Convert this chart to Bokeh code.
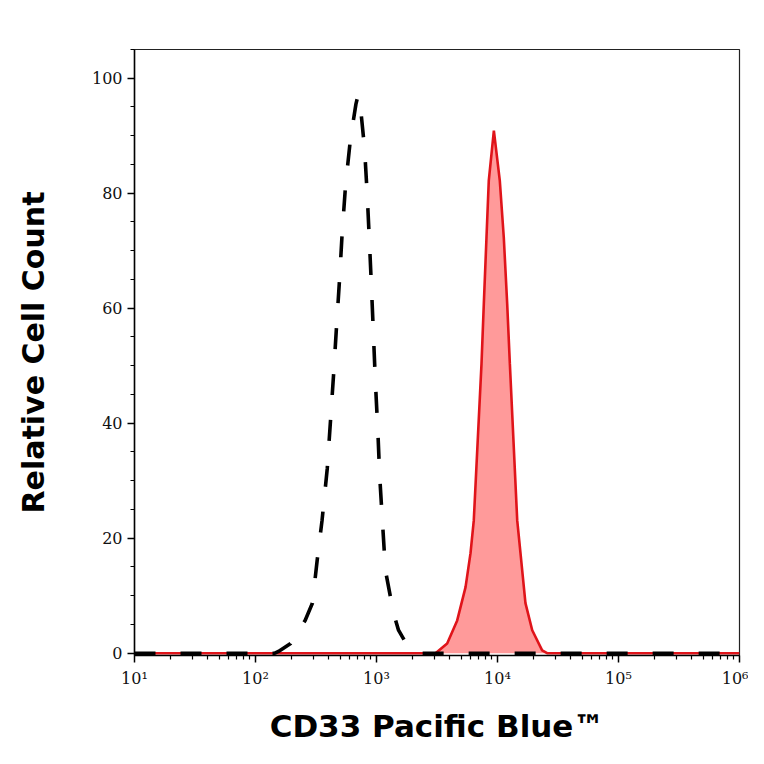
from bokeh.plotting import figure
from bokeh.models import Range1d, FixedTicker
from bokeh.embed import file_html
from bokeh.resources import INLINE

# ---- data (log10 of fluorescence intensity, relative cell count) ----
ctrl_log10 = [1.0, 2.16, 2.19, 2.29, 2.41, 2.47, 2.51, 2.55, 2.593, 2.62, 2.646, 2.669,
              2.694, 2.716, 2.744, 2.785, 2.83, 2.847, 2.868, 2.901, 2.923, 2.942, 2.959,
              2.975, 2.991, 3.011, 3.027, 3.05, 3.074, 3.14, 3.182, 3.25, 3.3, 3.33, 6.0]
ctrl_count = [0, 0, 0.3, 1.7, 5.7, 8.7, 16.2, 23.1, 32.1, 40.5, 48.7, 56.6,
              64.8, 73.0, 81.3, 89.5, 95.5, 97.0, 94.9, 87.9, 79.9, 71.4, 63.4,
              55.3, 47.1, 38.7, 30.6, 22.6, 14.4, 7.0, 4.0, 1.5, 0.3, 0, 0]

cd33_log10 = [1.0, 3.488, 3.584, 3.667, 3.736, 3.777, 3.804, 3.868, 3.887, 3.909, 3.928,
              3.97, 4.019, 4.052, 4.08, 4.102, 4.163, 4.19, 4.231, 4.287, 4.369, 4.41, 6.0]
cd33_count = [0, 0, 1.7, 5.7, 11.5, 17.4, 23.1, 50.4, 60.8, 72.3, 82.2,
              90.9, 82.2, 72.3, 60.8, 50.4, 23.1, 17.4, 8.7, 4.0, 0.5, 0, 0]

x_ticks = [1e1, 1e2, 1e3, 1e4, 1e5, 1e6]
x_tick_labels = ["10¹", "10²", "10³", "10⁴", "10⁵", "10⁶"]
y_ticks = [0, 20, 40, 60, 80, 100]
y_minor = [0, 5, 10, 15, 20, 25, 30, 35, 40, 45, 50, 55, 60, 65, 70, 75, 80, 85, 90, 95, 100, 105]

ctrl_x = [10 ** v for v in ctrl_log10]
cd33_x = [10 ** v for v in cd33_log10]
x_minor = [m * t for t in x_ticks[:-1] for m in range(2, 10)]

p = figure(x_axis_type="log", x_range=Range1d(10, 1e6), y_range=Range1d(-0.4, 105),
           frame_width=605, frame_height=606,
           min_border_left=134, min_border_right=9, min_border_top=49, min_border_bottom=93,
           output_backend="svg", toolbar_location=None)

p.xgrid.visible = False
p.ygrid.visible = False
p.outline_line_color = "#222222"
p.outline_line_width = 1.2
p.background_fill_color = "white"
p.border_fill_color = "white"

# CD33 stained (filled red)
p.varea(x=cd33_x, y1=0, y2=cd33_count, fill_color="#ff9a9a", fill_alpha=1.0)
p.line(cd33_x, cd33_count, line_color="#e0141a", line_width=2.6)
# isotype control (black dashed)
p.line(ctrl_x, ctrl_count, line_color="black", line_width=3.6, line_dash="21 25")

# axes
p.xaxis.ticker = FixedTicker(ticks=x_ticks, minor_ticks=x_minor)
p.xaxis.major_label_overrides = {t: l for t, l in zip(x_ticks, x_tick_labels)}
p.yaxis.ticker = FixedTicker(ticks=y_ticks, minor_ticks=y_minor)

for ax in (p.xaxis[0], p.yaxis[0]):
    ax.axis_line_color = "black"
    ax.axis_line_width = 1.5
    ax.major_tick_line_color = "black"
    ax.minor_tick_line_color = "black"
    ax.major_tick_line_width = 1.5
    ax.minor_tick_line_width = 1.2
    ax.major_tick_in = 0
    ax.major_tick_out = 7
    ax.minor_tick_in = 0
    ax.minor_tick_out = 4
    ax.major_label_text_font = "DejaVu Serif"
    ax.major_label_text_font_size = "16px"
    ax.major_label_text_color = "#111111"
    ax.axis_label_text_font = "DejaVu Sans"
    ax.axis_label_text_font_style = "bold"
    ax.axis_label_text_font_size = "30px"
    ax.axis_label_text_color = "black"

p.xaxis.axis_label = "CD33 Pacific Blue™"
p.yaxis.axis_label = "Relative Cell Count"
p.xaxis.axis_label_text_font_size = "31px"
p.xaxis.major_label_standoff = 6
p.yaxis.major_label_standoff = 5
p.xaxis.axis_label_standoff = 17
p.yaxis.axis_label_standoff = 38

open("out.html", "w").write(file_html(p, INLINE))
